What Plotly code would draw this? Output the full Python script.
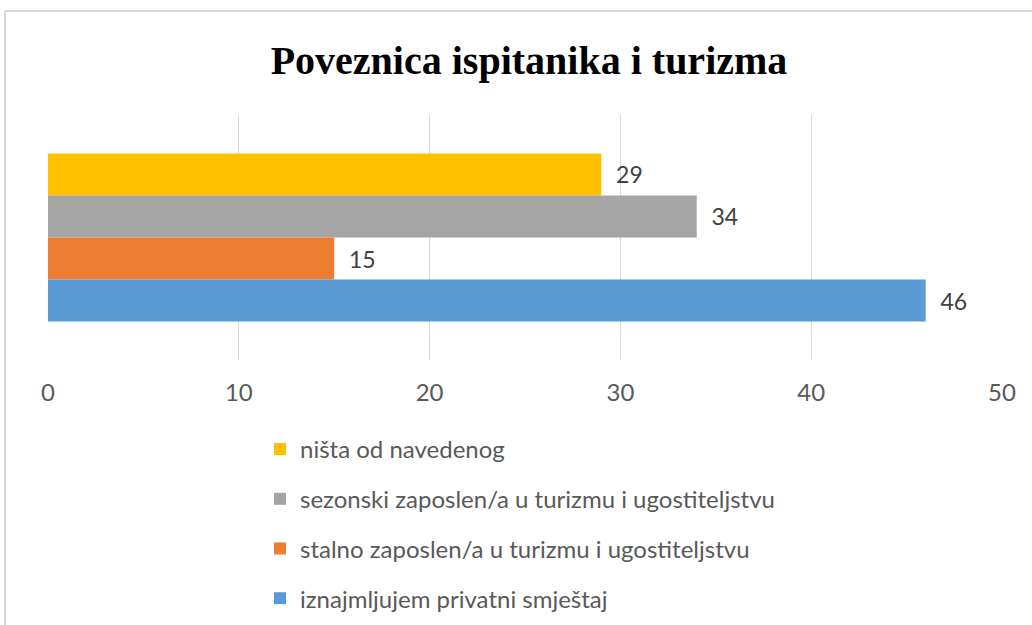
import plotly.graph_objects as go

# Data (legend / top-to-bottom order)
series_names = [
    "ništa od navedenog",
    "sezonski zaposlen/a u turizmu i ugostiteljstvu",
    "stalno zaposlen/a u turizmu i ugostiteljstvu",
    "iznajmljujem privatni smještaj",
]
series_values = [29, 34, 15, 46]
series_colors = ["#FFC000", "#A5A5A5", "#ED7D31", "#5B9BD5"]
category = ["Poveznica"]
x_ticks = [0, 10, 20, 30, 40, 50]

W, H = 1032, 625
L, R, T, B = 48, 30, 115, 265

fig = go.Figure()
for name, val, col in zip(series_names, series_values, series_colors):
    fig.add_trace(go.Bar(
        y=category, x=[val], name=name, orientation="h",
        marker=dict(color=col, line=dict(width=0)),
        text=[val], texttemplate="  %{x}", textposition="outside",
        textfont=dict(family="Lato", size=23, color="#404040"),
        cliponaxis=False, legendgroup=name,
    ))

plot_w = W - L - R
plot_h = H - T - B

def px_x(p):
    return (p - L) / plot_w

def px_y(p):
    return (H - B - p) / plot_h

# outer frame lines (top and left)
fig.add_shape(type="line", xref="paper", yref="paper",
              x0=px_x(5), x1=px_x(1040), y0=px_y(11), y1=px_y(11),
              line=dict(color="#D9D9D9", width=2))
fig.add_shape(type="line", xref="paper", yref="paper",
              x0=px_x(5), x1=px_x(5), y0=px_y(11), y1=px_y(640),
              line=dict(color="#D9D9D9", width=2))

fig.update_layout(
    width=W, height=H,
    margin=dict(l=L, r=R, t=T, b=B, autoexpand=False),
    paper_bgcolor="white", plot_bgcolor="white",
    barmode="group", bargap=0.314, bargroupgap=0,
    title=dict(text="<b>Poveznica ispitanika i turizma</b>",
               font=dict(family="Liberation Serif", size=40, color="black"),
               x=529 / W, xanchor="center", y=1 - 60 / H, yanchor="middle",
               xref="container", yref="container"),
    xaxis=dict(range=[0, 50], tickvals=x_ticks, showgrid=True,
               gridcolor="#D9D9D9", gridwidth=1, zeroline=False,
               showline=False, ticks="", ticklabelstandoff=16,
               tickfont=dict(family="Lato", size=24, color="#595959")),
    yaxis=dict(showticklabels=False, showgrid=False, zeroline=False,
               showline=False, autorange="reversed"),
    showlegend=True,
    legend=dict(orientation="v", traceorder="grouped",
                tracegroupgap=15.5, xref="container", yref="container",
                x=260 / W, xanchor="left", y=1 - 427 / H, yanchor="top",
                font=dict(family="Lato", size=24, color="#595959"),
                itemwidth=30, bgcolor="rgba(0,0,0,0)"),
)

fig.write_html("out.html")
